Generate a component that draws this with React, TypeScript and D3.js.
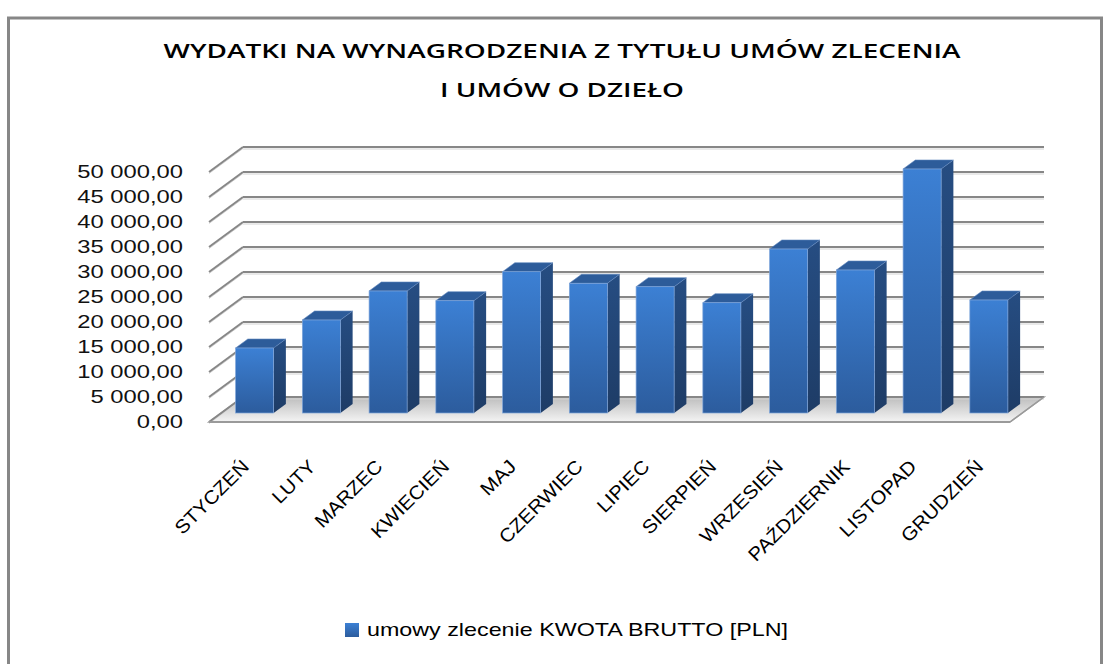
import React from "react";
import * as d3 from "d3";

const categories = ["STYCZEŃ", "LUTY", "MARZEC", "KWIECIEŃ", "MAJ", "CZERWIEC", "LIPIEC", "SIERPIEŃ", "WRZESIEŃ", "PAŹDZIERNIK", "LISTOPAD", "GRUDZIEŃ"];
const values = [13000, 18600, 24400, 22460, 28260, 25940, 25260, 22060, 32800, 28600, 48800, 22600];
const yTicks = [0, 5000, 10000, 15000, 20000, 25000, 30000, 35000, 40000, 45000, 50000];
const titleLines = ["WYDATKI NA WYNAGRODZENIA Z TYTUŁU UMÓW ZLECENIA", "I UMÓW O DZIEŁO"];
const seriesName = "umowy zlecenie KWOTA BRUTTO [PLN]";

const W = 1111;
const H = 664;
const FONT = "'Liberation Sans', Arial, sans-serif";
const TITLE_FONT = "'Open Sans', 'Liberation Sans', sans-serif";

const fmt = (v: number) => {
  const s = d3.format(",.2f")(v);
  return s.replace(/,/g, " ").replace(".", ",");
};

export default function App() {
  const left = 209;
  const right = 1010;
  const base = 422;
  const depthX = 34;
  const depthY = -25;
  const f1 = 0.36;
  const f2 = 0.72;

  const x = d3.scaleBand<string>().domain(categories).range([left, right]).paddingInner(0.43).paddingOuter(0.215);
  const y = d3.scaleLinear().domain([0, 50000]).range([0, 250]);

  const bw = x.bandwidth();
  const ox1 = depthX * f1, oy1 = depthY * f1;
  const ddx = depthX * (f2 - f1), ddy = depthY * (f2 - f1);

  return (
    <svg width={W} height={H} style={{ position: "absolute", left: 0, top: 0, background: "#fff" }}>
      <defs>
        <linearGradient id="front" x1="0" y1="0" x2="0" y2="1">
          <stop offset="0" stopColor="#3C80D4" />
          <stop offset="1" stopColor="#2C5C9D" />
        </linearGradient>
        <linearGradient id="side" x1="0" y1="0" x2="0" y2="1">
          <stop offset="0" stopColor="#264D82" />
          <stop offset="1" stopColor="#1E3C66" />
        </linearGradient>
        <linearGradient id="floor" x1="0" y1="0" x2="0" y2="1">
          <stop offset="0" stopColor="#bdbdbd" />
          <stop offset="1" stopColor="#f4f4f4" />
        </linearGradient>
        <linearGradient id="legend" x1="0" y1="0" x2="0" y2="1">
          <stop offset="0" stopColor="#3C80D4" />
          <stop offset="1" stopColor="#2C5C9D" />
        </linearGradient>
      </defs>

      <rect x={8.5} y={18} width={1093} height={700} fill="#fff" stroke="#878787" strokeWidth={3} />

      {titleLines.map((t, i) => (
        <text key={i} x={562} y={58 + i * 39} textAnchor="middle" fontFamily={TITLE_FONT} fontWeight={600} fontSize={20.5}
          fill="#000" textLength={i === 0 ? 797 : 244} lengthAdjust="spacingAndGlyphs">{t}</text>
      ))}

      {/* floor */}
      <polygon
        points={`${left},${base} ${right},${base} ${right + depthX},${base + depthY} ${left + depthX},${base + depthY}`}
        fill="url(#floor)" stroke="#a3a3a3" strokeWidth={1.5} />

      {/* gridlines */}
      {yTicks.map((t) => {
        const yf = base - y(t);
        const yb = yf + depthY;
        return (
          <g key={t}>
            <line x1={left + depthX} x2={right + depthX} y1={yb + 2} y2={yb + 2} stroke="#d4d4d4" strokeWidth={1} />
            <line x1={left + depthX} x2={right + depthX} y1={yb} y2={yb} stroke="#878787" strokeWidth={2} />
            <line x1={left} y1={yf + 1.5} x2={left + depthX} y2={yb + 1.5} stroke="#d4d4d4" strokeWidth={1} />
            <line x1={left} y1={yf} x2={left + depthX} y2={yb} stroke="#878787" strokeWidth={2} />
          </g>
        );
      })}
      <line x1={left} x2={right} y1={base} y2={base} stroke="#9a9a9a" strokeWidth={2} />
      <line x1={right} y1={base} x2={right + depthX} y2={base + depthY} stroke="#9a9a9a" strokeWidth={1.5} />

      {/* bars */}
      {categories.map((c, i) => {
        const v = values[i];
        const xl = (x(c) as number) + ox1;
        const xr = xl + bw;
        const yb = base + oy1;
        const yt = yb - y(v);
        return (
          <g key={c}>
            <polygon points={`${xr},${yb} ${xr},${yt} ${xr + ddx},${yt + ddy} ${xr + ddx},${yb + ddy}`} fill="url(#side)" />
            <polygon points={`${xl},${yt} ${xr},${yt} ${xr + ddx},${yt + ddy} ${xl + ddx},${yt + ddy}`} fill="#2D5C9A" stroke="#5f86bd" strokeWidth={0.6} />
            <rect x={xl} y={yt} width={bw} height={y(v)} fill="url(#front)" stroke="#7fa5da" strokeWidth={0.7} />
          </g>
        );
      })}

      {/* y labels */}
      {yTicks.map((t) => (
        <g key={t} transform={`translate(183,${base - y(t)}) scale(1.25,1)`}>
          <text x={0} y={0} textAnchor="end" dominantBaseline="central" fontFamily={FONT} fontSize={19} fill="#111">{fmt(t)}</text>
        </g>
      ))}

      {/* x labels */}
      {categories.map((c) => {
        const cx = (x(c) as number) + bw / 2;
        return (
          <g key={c} transform={`translate(${cx + 3},${463}) rotate(-45) scale(1.08,1)`}>
            <text x={0} y={0} textAnchor="end" dominantBaseline="central" fontFamily={FONT} fontSize={19} fill="#000">{c}</text>
          </g>
        );
      })}

      {/* legend */}
      <rect x={345} y={623} width={14} height={14} fill="url(#legend)" />
      <text x={367} y={636} fontFamily={FONT} fontSize={18.5} fill="#000" textLength={421} lengthAdjust="spacingAndGlyphs">{seriesName}</text>
    </svg>
  );
}
